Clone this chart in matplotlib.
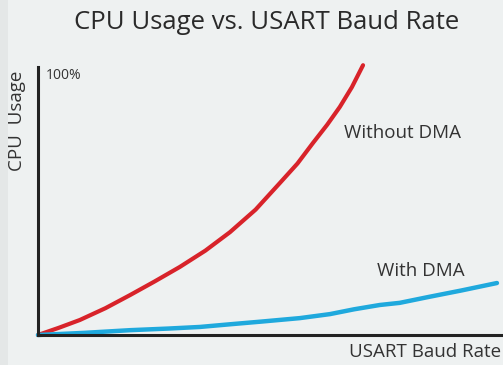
import matplotlib.pyplot as plt
from matplotlib.patches import Rectangle

# values (x: % of baud rate axis, y: % CPU usage)
red_x = [0, 4.5, 9.0, 14.5, 19.8, 25.0, 30.5, 36.0, 41.3, 46.8, 52.0, 55.8, 59.1, 62.2, 64.9, 67.5, 69.9]
red_y = [0, 2.7, 5.6, 10.0, 14.9, 19.9, 25.4, 31.5, 38.4, 46.8, 56.7, 64.0, 71.6, 78.5, 85.1, 92.5, 100.7]
blue_x = [0, 10.0, 19.8, 28.0, 34.8, 41.3, 48.0, 56.3, 62.8, 68.0, 73.5, 77.8, 84.0, 91.0, 98.7]
blue_y = [0, 0.8, 1.8, 2.4, 3.0, 4.0, 5.0, 6.3, 7.8, 9.6, 11.2, 12.0, 14.2, 16.6, 19.4]

plt.rcParams['font.family'] = ['Open Sans', 'DejaVu Sans']

fig = plt.figure(figsize=(5.03, 3.65), dpi=100)
fig.patch.set_facecolor('#eef1f1')
fig.patches.append(Rectangle((0, 0), 0.016, 1, transform=fig.transFigure,
                             facecolor='#e4e7e7', edgecolor='none', zorder=0))

ax = fig.add_axes([0.0755, 0.0822, 0.9245, 0.734])
ax.set_facecolor('none')
ax.plot(red_x, red_y, color='#d8232a', lw=3.0, solid_capstyle='round', clip_on=False)
ax.plot(blue_x, blue_y, color='#1fa9dd', lw=3.2, solid_capstyle='round', clip_on=False)

ax.set_xlim(0, 100)
ax.set_ylim(0, 100)
ax.set_xticks([])
ax.set_yticks([])
for s in ['top', 'right']:
    ax.spines[s].set_visible(False)
for s in ['left', 'bottom']:
    ax.spines[s].set_linewidth(2.2)
    ax.spines[s].set_color('#222222')

ax.text(1.7, 97, '100%', fontsize=10, color='#333333', va='center', ha='left')
ax.text(65.8, 75.4, 'Without DMA', fontsize=13.5, color='#333333', va='center')
ax.text(73.0, 23.9, 'With DMA', fontsize=13.5, color='#333333', va='center')

fig.text(0.997, 0.036, 'USART Baud Rate', fontsize=13.5, color='#333333', ha='right', va='center')
fig.text(0.034, 0.67, 'CPU  Usage', fontsize=13.5, color='#333333', rotation=90, ha='center', va='center')
fig.text(0.531, 0.938, 'CPU Usage vs. USART Baud Rate', fontsize=18.5, color='#2a2a2a', ha='center', va='center')

fig.savefig('out.png', dpi=100, facecolor=fig.get_facecolor())
